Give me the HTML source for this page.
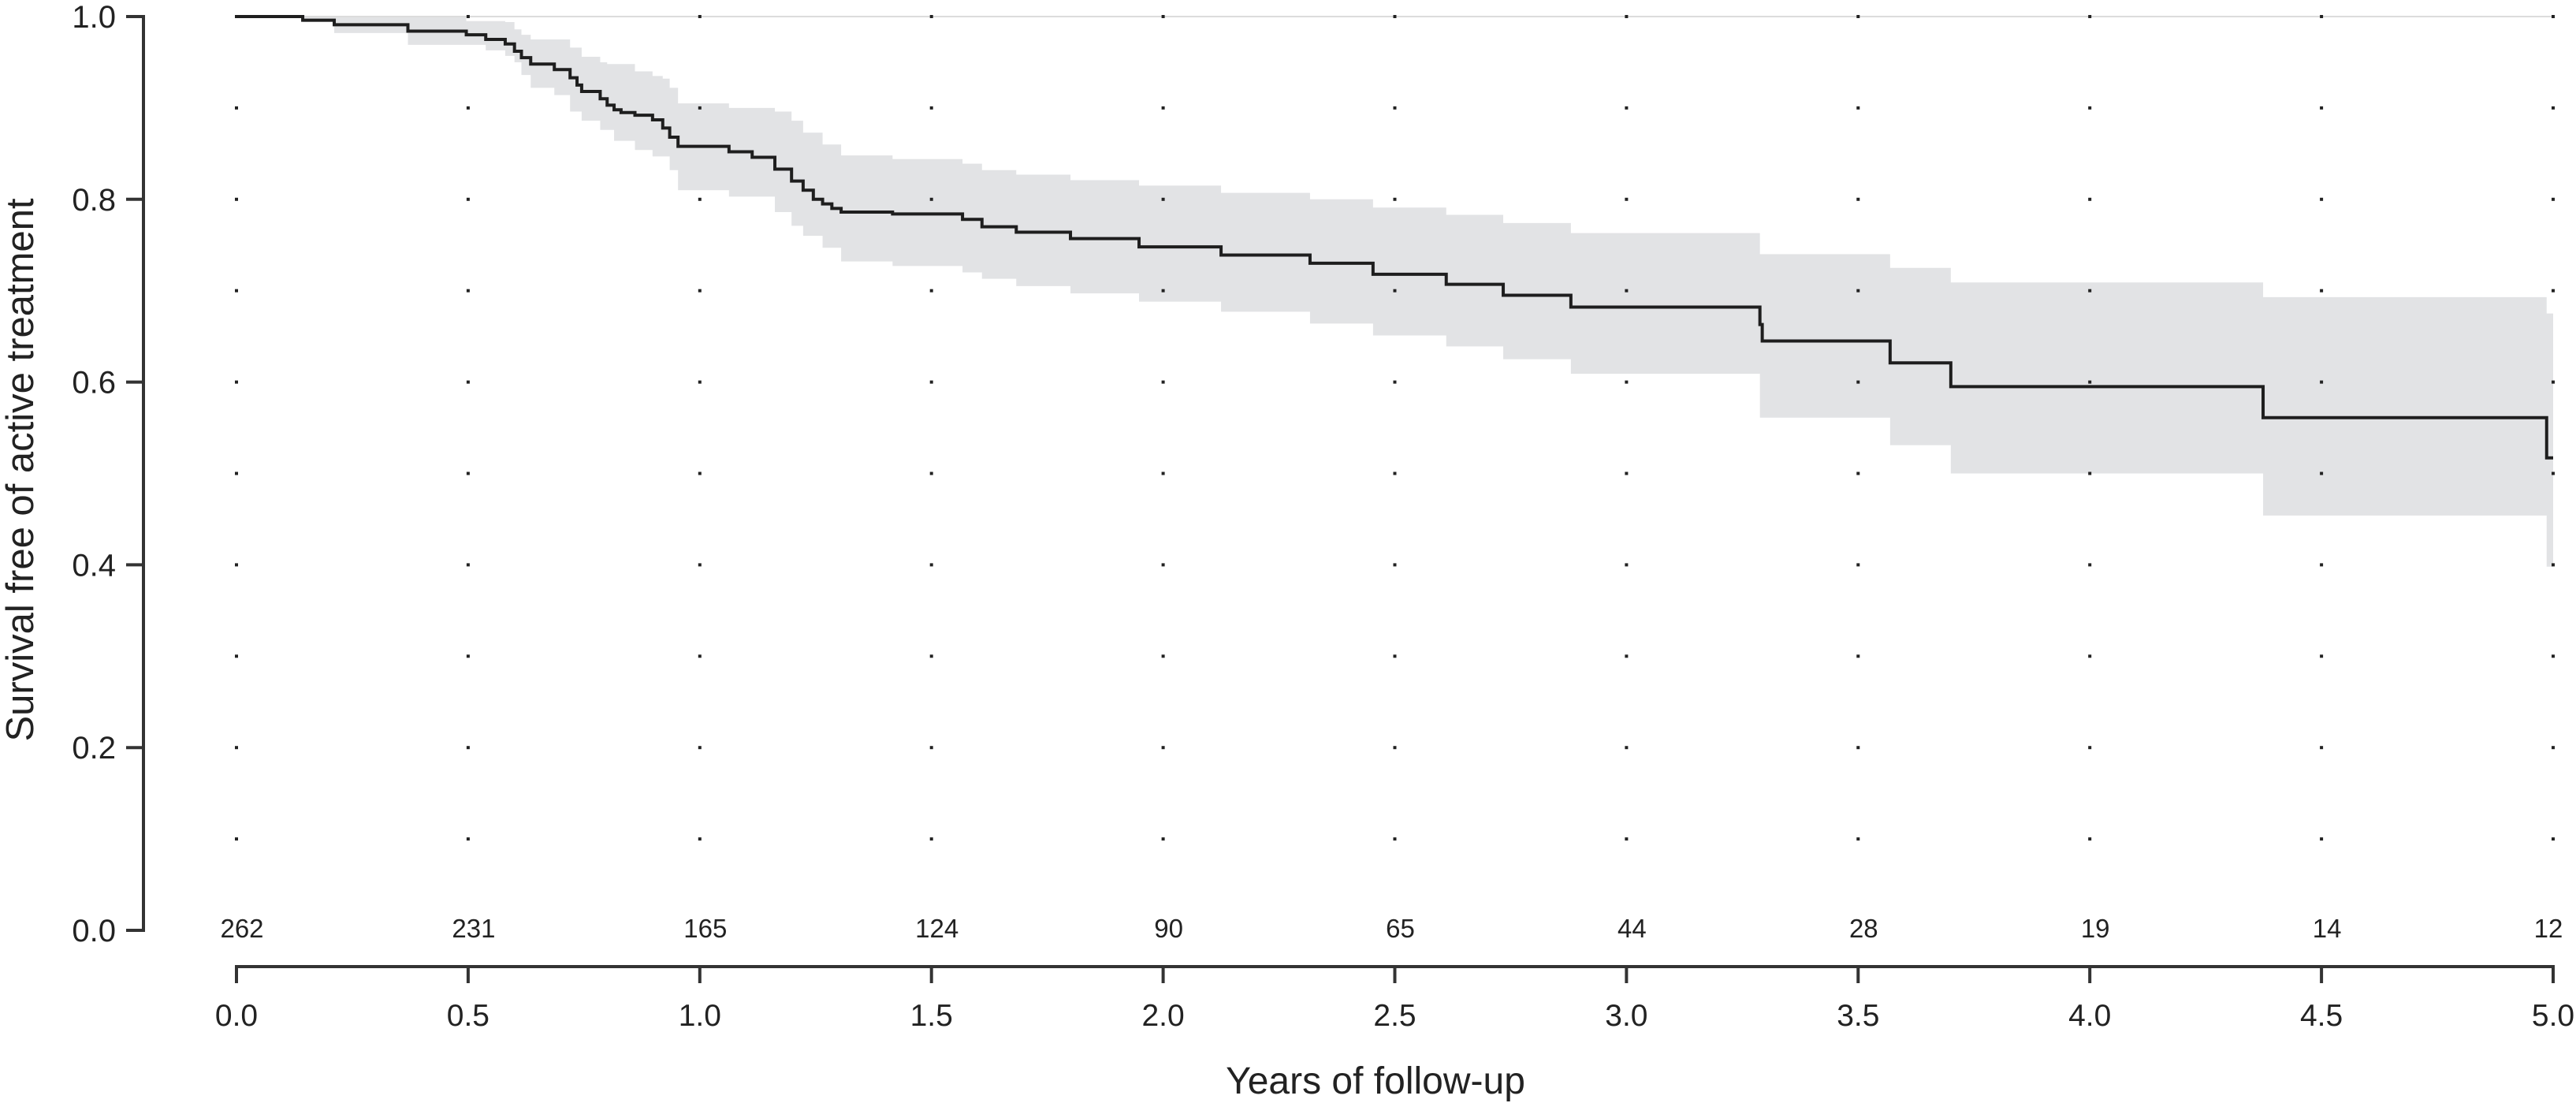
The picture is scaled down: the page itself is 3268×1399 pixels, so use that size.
<!DOCTYPE html>
<html><head><meta charset="utf-8">
<style>
html,body{margin:0;padding:0;background:#fff;}
svg{display:block;font-family:"Liberation Sans",Arial,sans-serif;}
</style></head>
<body>
<svg id="chart" width="3268" height="1399" viewBox="0 0 3268 1399" xmlns="http://www.w3.org/2000/svg">
<g id="band"></g>
<g id="grid"></g>
<g id="curve"></g>
<g id="axes"></g>
<g id="risk"></g>
<text x="0" y="0" transform="translate(42,596) rotate(-90)" text-anchor="middle" font-size="49" fill="#222">Survival free of active treatment</text>
<text x="1745" y="1387" text-anchor="middle" font-size="48" fill="#222">Years of follow-up</text>
</svg>
<script>
const times = [0,0.143,0.211,0.37,0.496,0.538,0.58,0.60,0.615,0.635,0.686,0.72,0.735,0.745,0.785,0.80,0.815,0.83,0.86,0.898,0.92,0.935,0.953,1.063,1.113,1.162,1.198,1.223,1.245,1.265,1.285,1.305,1.416,1.567,1.609,1.683,1.80,1.948,2.125,2.317,2.453,2.611,2.734,2.88,3.288,3.293,3.569,3.70,4.374,4.986];
const survival = [1,0.996,0.991,0.984,0.980,0.975,0.970,0.962,0.955,0.948,0.942,0.933,0.925,0.918,0.910,0.903,0.898,0.895,0.892,0.887,0.878,0.868,0.858,0.852,0.846,0.833,0.82,0.81,0.80,0.795,0.79,0.786,0.784,0.778,0.770,0.764,0.757,0.748,0.739,0.730,0.718,0.707,0.695,0.682,0.663,0.645,0.621,0.595,0.561,0.517];
const upperCI = [1,1,1,1,0.995,0.995,0.994,0.986,0.98,0.975,0.975,0.966,0.966,0.956,0.95,0.948,0.948,0.948,0.94,0.935,0.932,0.922,0.905,0.90,0.90,0.896,0.886,0.873,0.873,0.86,0.86,0.848,0.844,0.839,0.832,0.827,0.821,0.815,0.807,0.80,0.791,0.783,0.774,0.763,0.74,0.74,0.725,0.709,0.693,0.675];
const lowerCI = [1,0.994,0.982,0.969,0.969,0.963,0.957,0.95,0.936,0.922,0.914,0.896,0.896,0.886,0.876,0.876,0.864,0.864,0.854,0.847,0.847,0.832,0.81,0.803,0.803,0.786,0.771,0.76,0.76,0.747,0.747,0.732,0.727,0.72,0.713,0.705,0.697,0.688,0.677,0.664,0.651,0.639,0.625,0.609,0.561,0.561,0.531,0.50,0.454,0.398];
const endTime = 5.0;
const xTicks = [0,0.5,1.0,1.5,2.0,2.5,3.0,3.5,4.0,4.5,5.0];
const xTickLabels = ["0.0","0.5","1.0","1.5","2.0","2.5","3.0","3.5","4.0","4.5","5.0"];
const yTicks = [0,0.2,0.4,0.6,0.8,1.0];
const yTickLabels = ["0.0","0.2","0.4","0.6","0.8","1.0"];
const atRisk = [262,231,165,124,90,65,44,28,19,14,12];

const NS="http://www.w3.org/2000/svg";
const X = t => 300 + t*587.8;
const Y = v => 1180 - v*1159;
function mk(tag, parent, attrs){const e=document.createElementNS(NS,tag);for(const k in attrs)e.setAttribute(k,attrs[k]);parent.appendChild(e);return e;}

let up="", lo="";
for(let i=0;i<times.length;i++){
  const x0=X(times[i]), x1=X(i+1<times.length?times[i+1]:endTime);
  up += (i===0?"M":"L")+x0+","+Y(upperCI[i])+" L"+x1+","+Y(upperCI[i])+" ";
}
for(let i=times.length-1;i>=0;i--){
  const x0=X(times[i]), x1=X(i+1<times.length?times[i+1]:endTime);
  lo += "L"+x1+","+Y(lowerCI[i])+" L"+x0+","+Y(lowerCI[i])+" ";
}
const bandG=document.getElementById('band');
const bp=mk('path',bandG,{d:up+lo+"Z",fill:"#e2e3e5",stroke:"none"});


const topLine=mk('line',bandG,{x1:X(0),x2:X(endTime),y1:Y(1),y2:Y(1),stroke:"#dcdcdc","stroke-width":2});



const gridG=document.getElementById('grid');
for(const t of xTicks){
  for(let k=1;k<=10;k++){
    const v=k/10;
    const d=mk('rect',gridG,{x:X(t)-2,y:Y(v)-2,width:4,height:4,fill:"#222"});
    
    
  }
}

let cd="";
for(let i=0;i<times.length;i++){
  const x0=X(times[i]), x1=X(i+1<times.length?times[i+1]:endTime);
  cd += (i===0?"M":"L")+x0+","+Y(survival[i])+" L"+x1+","+Y(survival[i])+" ";
}
const cp=mk('path',document.getElementById('curve'),{d:cd,fill:"none",stroke:"#1e1e1e","stroke-width":4});



const ax=document.getElementById('axes');
const ya=mk('path',ax,{d:"M160,"+Y(1)+" H182 V"+Y(0)+" H160",fill:"none",stroke:"#333","stroke-width":4});


yTicks.forEach((v,i)=>{
  const tk=mk('line',ax,{x1:160,x2:182,y1:Y(v),y2:Y(v),stroke:"#333","stroke-width":4});
  
  
  const tx=mk('text',ax,{x:147,y:Y(v)+14,"text-anchor":"end","font-size":40,fill:"#222"});
  tx.textContent=yTickLabels[i];
  
  
});
const xa=mk('path',ax,{d:"M"+X(0)+",1247 V1226 H"+X(endTime)+" V1247",fill:"none",stroke:"#333","stroke-width":4});


xTicks.forEach((t,i)=>{
  const tk=mk('line',ax,{x1:X(t),x2:X(t),y1:1226,y2:1247,stroke:"#333","stroke-width":4});
  
  
  const tx=mk('text',ax,{x:X(t),y:1301,"text-anchor":"middle","font-size":39,fill:"#222"});
  tx.textContent=xTickLabels[i];
  
  
});

const rg=document.getElementById('risk');
xTicks.forEach((t,i)=>{
  const tx=mk('text',rg,{x:X(t)+(i===xTicks.length-1?-6:7),y:1189,"text-anchor":"middle","font-size":33,fill:"#222"});
  tx.textContent=atRisk[i];
  
  
});
</script>
</body></html>
